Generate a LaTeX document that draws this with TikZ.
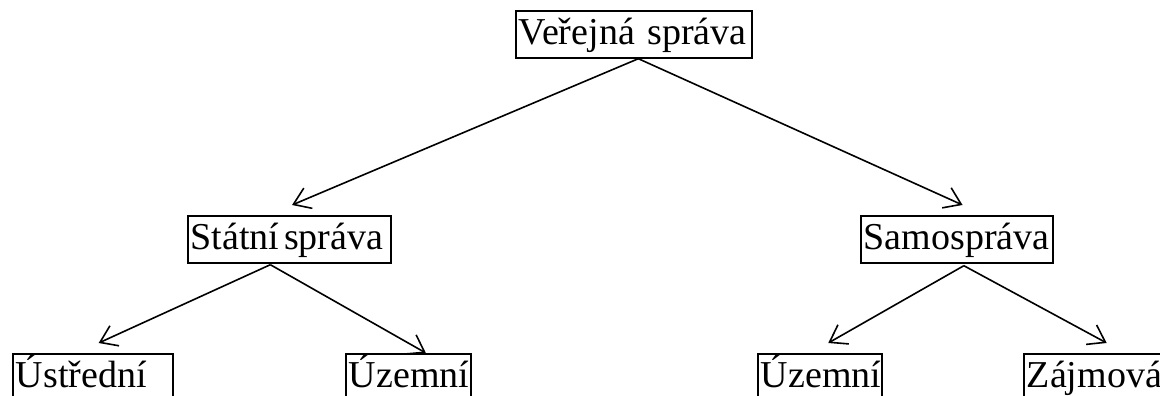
\documentclass[tikz,border=0pt]{standalone}
\usepackage{fontspec}
\setmainfont{Liberation Serif}
\usetikzlibrary{arrows.meta}
\tikzset{
  box/.style={draw, line width=1.7pt, anchor=north west, inner xsep=3pt, inner ysep=0pt,
    text height=34pt, text depth=13pt, align=left,
    font=\fontsize{38}{44}\selectfont},
  arr/.style={line width=1.6pt, -{Straight Barb[length=16pt,width=22pt,line width=1.6pt]}}
}
\begin{document}
\begin{tikzpicture}[x=1pt,y=-1pt]
\useasboundingbox (0,0) rectangle (1160,396);
\clip (0,0) rectangle (1160,396);
\node[box, text width=230pt] (V) at (515,10) {Veřejná správa};
\node[box, text width=197pt] (S) at (187,215) {Státní\kern0.12em správa};
\node[box, text width=186pt] (M) at (860,215) {Samospráva};
\node[box, text width=154pt] (U) at (12,353) {Ústřední};
\node[box, text width=119pt] (Z1) at (345,353) {Územní};
\node[box, text width=118pt] (Z2) at (757,353) {Územní};
\node[box, text width=160pt] (Z3) at (1023,353) {Zájmová};
\draw[arr] ([xshift=4.5pt]V.south) -- ([xshift=2.7pt,yshift=10pt]S.north);
\draw[arr] ([xshift=4.5pt]V.south) -- ([xshift=5.7pt,yshift=10pt]M.north);
\draw[arr] ([xshift=-19pt,yshift=-1pt]S.south) -- ([xshift=5.8pt,yshift=10pt]U.north);
\draw[arr] ([xshift=-19pt,yshift=-1pt]S.south) -- ([xshift=17.5pt]Z1.north);
\draw[arr] ([xshift=7pt,yshift=-2pt]M.south) -- ([xshift=8.4pt,yshift=10pt]Z2.north);
\draw[arr] ([xshift=7pt,yshift=-2pt]M.south) -- ([xshift=83.7pt,yshift=10pt]Z3.north west);
\end{tikzpicture}
\end{document}
